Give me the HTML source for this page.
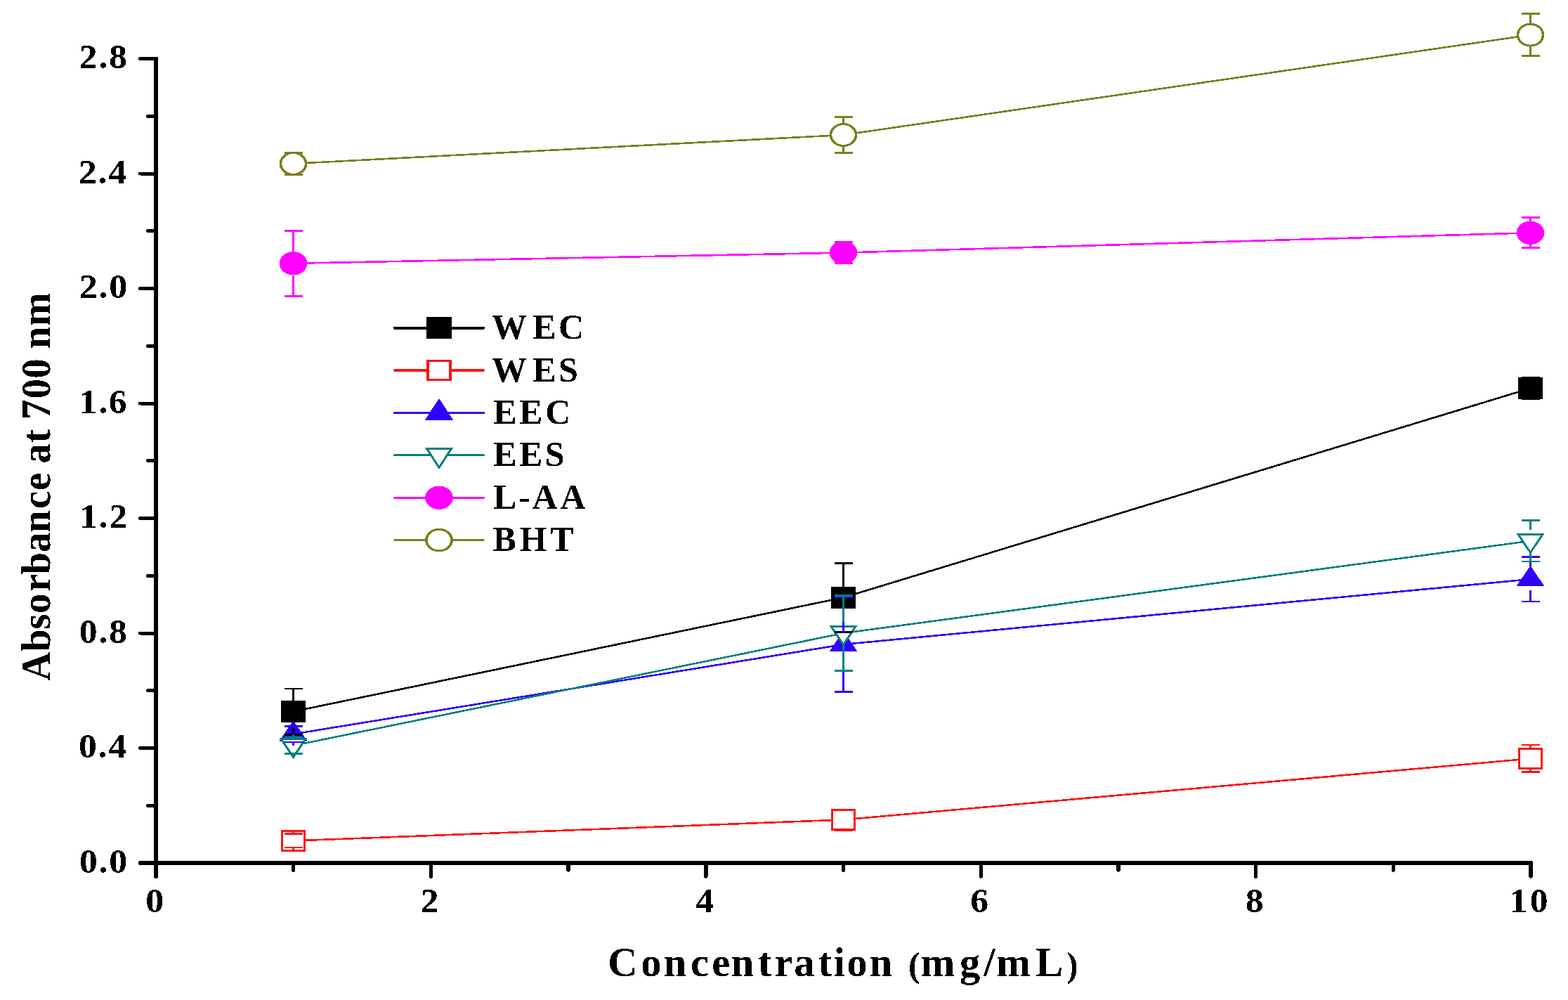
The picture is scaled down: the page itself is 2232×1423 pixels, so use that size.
<!DOCTYPE html>
<html><head><meta charset="utf-8"><title>Absorbance at 700 nm vs Concentration</title>
<style>html,body{margin:0;padding:0;background:#fff;overflow:hidden;}svg{display:block;} line,rect,polygon,polyline,ellipse{shape-rendering:crispEdges;} text{filter:url(#bin);}</style></head>
<body><svg width="2232" height="1423" viewBox="0 0 2232 1423">
<defs><filter id="bin" x="-5%" y="-5%" width="110%" height="110%" color-interpolation-filters="sRGB"><feComponentTransfer><feFuncA type="discrete" tableValues="0 1"/></feComponentTransfer></filter></defs>
<rect width="2232" height="1423" fill="#fff"/>
<g stroke="#000" fill="none">
<line x1="222.0" y1="81.4" x2="222.0" y2="1247" stroke-width="6" stroke-linecap="butt"/>
<line x1="222.0" y1="1240" x2="222.0" y2="1247" stroke-width="6" stroke-linecap="round"/>
<line x1="200" y1="1228.0" x2="2179" y2="1228.0" stroke-width="6" stroke-linecap="round"/>
<line x1="199.5" y1="1228.0" x2="222.0" y2="1228.0" stroke-width="5" stroke-linecap="round"/>
<line x1="210.5" y1="1146.2" x2="222.0" y2="1146.2" stroke-width="5" stroke-linecap="round"/>
<line x1="199.5" y1="1064.5" x2="222.0" y2="1064.5" stroke-width="5" stroke-linecap="round"/>
<line x1="210.5" y1="982.8" x2="222.0" y2="982.8" stroke-width="5" stroke-linecap="round"/>
<line x1="199.5" y1="901.0" x2="222.0" y2="901.0" stroke-width="5" stroke-linecap="round"/>
<line x1="210.5" y1="819.2" x2="222.0" y2="819.2" stroke-width="5" stroke-linecap="round"/>
<line x1="199.5" y1="737.5" x2="222.0" y2="737.5" stroke-width="5" stroke-linecap="round"/>
<line x1="210.5" y1="655.8" x2="222.0" y2="655.8" stroke-width="5" stroke-linecap="round"/>
<line x1="199.5" y1="574.0" x2="222.0" y2="574.0" stroke-width="5" stroke-linecap="round"/>
<line x1="210.5" y1="492.2" x2="222.0" y2="492.2" stroke-width="5" stroke-linecap="round"/>
<line x1="199.5" y1="410.5" x2="222.0" y2="410.5" stroke-width="5" stroke-linecap="round"/>
<line x1="210.5" y1="328.7" x2="222.0" y2="328.7" stroke-width="5" stroke-linecap="round"/>
<line x1="199.5" y1="247.0" x2="222.0" y2="247.0" stroke-width="5" stroke-linecap="round"/>
<line x1="210.5" y1="165.2" x2="222.0" y2="165.2" stroke-width="5" stroke-linecap="round"/>
<line x1="199.5" y1="83.5" x2="222.0" y2="83.5" stroke-width="5" stroke-linecap="round"/>
<line x1="222.0" y1="1228.0" x2="222.0" y2="1247" stroke-width="5.4" stroke-linecap="round"/>
<line x1="417.7" y1="1228.0" x2="417.7" y2="1238" stroke-width="5.4" stroke-linecap="round"/>
<line x1="613.4" y1="1228.0" x2="613.4" y2="1247" stroke-width="5.4" stroke-linecap="round"/>
<line x1="809.1" y1="1228.0" x2="809.1" y2="1238" stroke-width="5.4" stroke-linecap="round"/>
<line x1="1004.8" y1="1228.0" x2="1004.8" y2="1247" stroke-width="5.4" stroke-linecap="round"/>
<line x1="1200.5" y1="1228.0" x2="1200.5" y2="1238" stroke-width="5.4" stroke-linecap="round"/>
<line x1="1396.2" y1="1228.0" x2="1396.2" y2="1247" stroke-width="5.4" stroke-linecap="round"/>
<line x1="1591.9" y1="1228.0" x2="1591.9" y2="1238" stroke-width="5.4" stroke-linecap="round"/>
<line x1="1787.6" y1="1228.0" x2="1787.6" y2="1247" stroke-width="5.4" stroke-linecap="round"/>
<line x1="1983.3" y1="1228.0" x2="1983.3" y2="1238" stroke-width="5.4" stroke-linecap="round"/>
<line x1="2179.0" y1="1228.0" x2="2179.0" y2="1247" stroke-width="5.4" stroke-linecap="round"/>
</g>
<text transform="translate(112.94,1241.60) scale(1.066,1)" font-family="'Liberation Serif', 'Times New Roman', serif" font-weight="bold" font-size="48.5" fill="#000" letter-spacing="1.69" text-anchor="start">0.0</text>
<text transform="translate(111.93,1078.10) scale(1.066,1)" font-family="'Liberation Serif', 'Times New Roman', serif" font-weight="bold" font-size="48.5" fill="#000" letter-spacing="1.69" text-anchor="start">0.4</text>
<text transform="translate(112.69,914.60) scale(1.066,1)" font-family="'Liberation Serif', 'Times New Roman', serif" font-weight="bold" font-size="48.5" fill="#000" letter-spacing="1.69" text-anchor="start">0.8</text>
<text transform="translate(113.20,751.10) scale(1.066,1)" font-family="'Liberation Serif', 'Times New Roman', serif" font-weight="bold" font-size="48.5" fill="#000" letter-spacing="1.69" text-anchor="start">1.2</text>
<text transform="translate(112.49,587.60) scale(1.066,1)" font-family="'Liberation Serif', 'Times New Roman', serif" font-weight="bold" font-size="48.5" fill="#000" letter-spacing="1.69" text-anchor="start">1.6</text>
<text transform="translate(112.94,424.10) scale(1.066,1)" font-family="'Liberation Serif', 'Times New Roman', serif" font-weight="bold" font-size="48.5" fill="#000" letter-spacing="1.69" text-anchor="start">2.0</text>
<text transform="translate(111.93,260.60) scale(1.066,1)" font-family="'Liberation Serif', 'Times New Roman', serif" font-weight="bold" font-size="48.5" fill="#000" letter-spacing="1.69" text-anchor="start">2.4</text>
<text transform="translate(112.69,97.10) scale(1.066,1)" font-family="'Liberation Serif', 'Times New Roman', serif" font-weight="bold" font-size="48.5" fill="#000" letter-spacing="1.69" text-anchor="start">2.8</text>
<text transform="translate(207.27,1298.40) scale(1.066,1)" font-family="'Liberation Serif', 'Times New Roman', serif" font-weight="bold" font-size="48.5" fill="#000" text-anchor="start">0</text>
<text transform="translate(598.70,1298.40) scale(1.066,1)" font-family="'Liberation Serif', 'Times New Roman', serif" font-weight="bold" font-size="48.5" fill="#000" text-anchor="start">2</text>
<text transform="translate(990.20,1298.40) scale(1.066,1)" font-family="'Liberation Serif', 'Times New Roman', serif" font-weight="bold" font-size="48.5" fill="#000" text-anchor="start">4</text>
<text transform="translate(1381.35,1298.40) scale(1.066,1)" font-family="'Liberation Serif', 'Times New Roman', serif" font-weight="bold" font-size="48.5" fill="#000" text-anchor="start">6</text>
<text transform="translate(1772.87,1298.40) scale(1.066,1)" font-family="'Liberation Serif', 'Times New Roman', serif" font-weight="bold" font-size="48.5" fill="#000" text-anchor="start">8</text>
<text transform="translate(2148.51,1298.40) scale(1.066,1)" font-family="'Liberation Serif', 'Times New Roman', serif" font-weight="bold" font-size="48.5" fill="#000" letter-spacing="3.28" text-anchor="start">10</text>
<text x="865.13 912.27 944.84 983.05 1013.22 1040.79 1078.92 1102.46 1130.18 1164.82 1186.61 1205.42 1237.84 1270.37 1310.45 1365.94 1400.36 1418.35 1474.22" y="1389" font-family="'Liberation Serif', 'Times New Roman', serif" font-weight="bold" font-size="58.5">Concentration <tspan>mg/mL</tspan></text>
<text x="1292.93" y="1389.6" font-family="'Liberation Serif', 'Times New Roman', serif" font-weight="bold" font-size="50">(</text>
<text x="1517.97" y="1389.6" font-family="'Liberation Serif', 'Times New Roman', serif" font-weight="bold" font-size="50">)</text>
<text transform="translate(71.2,0) scale(1.035,1) rotate(-90)" x="-969.05 -927.01 -895.76 -873.10 -842.10 -817.66 -785.99 -757.68 -724.01 -697.94 -672.64 -659.39 -630.07 -611.09 -597.13 -567.55 -538.75 -510.25 -496.48 -463.92" y="0" font-family="'Liberation Serif', 'Times New Roman', serif" font-weight="bold" font-size="57.0">Absorbance at 700 nm</text>
<polyline points="417.50,1012.50 1200.50,850.30 2178.50,552.50" fill="none" stroke="#000000" stroke-width="2.6" stroke-linejoin="round"/>
<polyline points="417.50,1196.50 1200.50,1166.50 2178.50,1079.50" fill="none" stroke="#FF1212" stroke-width="2.6" stroke-linejoin="round"/>
<polyline points="417.50,1044.60 1200.50,917.00 2178.50,824.20" fill="none" stroke="#3000FF" stroke-width="2.6" stroke-linejoin="round"/>
<polyline points="417.50,1061.00 1200.50,901.00 2178.50,769.75" fill="none" stroke="#008080" stroke-width="2.6" stroke-linejoin="round"/>
<polyline points="417.50,374.80 1200.50,359.60 2178.50,331.30" fill="none" stroke="#FF00FF" stroke-width="2.6" stroke-linejoin="round"/>
<polyline points="417.50,232.90 1200.50,192.00 2178.50,49.70" fill="none" stroke="#7C7E1E" stroke-width="2.6" stroke-linejoin="round"/>
<rect x="399.60" y="997.10" width="35.8" height="30.8" fill="#000000"/>
<rect x="1182.60" y="834.90" width="35.8" height="30.8" fill="#000000"/>
<rect x="2160.60" y="537.10" width="35.8" height="30.8" fill="#000000"/>
<rect x="399.60" y="1181.10" width="35.8" height="30.8" fill="#FF1212"/><rect x="403.30" y="1184.10" width="28.40" height="24.80" fill="#fff"/>
<rect x="1182.60" y="1151.10" width="35.8" height="30.8" fill="#FF1212"/><rect x="1186.30" y="1154.10" width="28.40" height="24.80" fill="#fff"/>
<rect x="2160.60" y="1064.10" width="35.8" height="30.8" fill="#FF1212"/><rect x="2164.30" y="1067.10" width="28.40" height="24.80" fill="#fff"/>
<polygon points="417.50,1025.10 437.50,1054.80 397.50,1054.80" fill="#3000FF"/>
<polygon points="1200.50,897.50 1220.50,927.20 1180.50,927.20" fill="#3000FF"/>
<polygon points="2178.50,804.70 2198.50,834.40 2158.50,834.40" fill="#3000FF"/>
<polygon points="397.50,1050.40 437.50,1050.40 417.50,1080.20" fill="#008080"/><polygon points="403.13,1053.40 431.87,1053.40 417.50,1074.82" fill="#fff"/>
<polygon points="1180.50,890.40 1220.50,890.40 1200.50,920.20" fill="#008080"/><polygon points="1186.13,893.40 1214.87,893.40 1200.50,914.82" fill="#fff"/>
<polygon points="2158.50,759.15 2198.50,759.15 2178.50,788.95" fill="#008080"/><polygon points="2164.13,762.15 2192.87,762.15 2178.50,783.57" fill="#fff"/>
<ellipse cx="417.50" cy="374.80" rx="19.8" ry="16.7" fill="#FF00FF"/>
<ellipse cx="1200.50" cy="359.60" rx="19.8" ry="16.7" fill="#FF00FF"/>
<ellipse cx="2178.50" cy="331.30" rx="19.8" ry="16.7" fill="#FF00FF"/>
<ellipse cx="417.50" cy="232.90" rx="19.9" ry="16.9" fill="#7C7E1E"/><ellipse cx="417.50" cy="232.90" rx="16.2" ry="13.9" fill="#fff"/>
<ellipse cx="1200.50" cy="192.00" rx="19.9" ry="16.9" fill="#7C7E1E"/><ellipse cx="1200.50" cy="192.00" rx="16.2" ry="13.9" fill="#fff"/>
<ellipse cx="2178.50" cy="49.70" rx="19.9" ry="16.9" fill="#7C7E1E"/><ellipse cx="2178.50" cy="49.70" rx="16.2" ry="13.9" fill="#fff"/>
<g stroke="#000000" fill="none"><line x1="417.50" y1="997.00" x2="417.50" y2="980.00" stroke-width="3"/><line x1="417.50" y1="1028.00" x2="417.50" y2="1045.50" stroke-width="3"/><line x1="404.50" y1="980.00" x2="430.50" y2="980.00" stroke-width="2.8"/><line x1="404.50" y1="1045.50" x2="430.50" y2="1045.50" stroke-width="2.8"/><line x1="1200.50" y1="834.80" x2="1200.50" y2="801.60" stroke-width="3"/><line x1="1200.50" y1="865.80" x2="1200.50" y2="899.80" stroke-width="3"/><line x1="1187.50" y1="801.60" x2="1213.50" y2="801.60" stroke-width="2.8"/><line x1="1187.50" y1="899.80" x2="1213.50" y2="899.80" stroke-width="2.8"/><line x1="2178.50" y1="537.00" x2="2178.50" y2="537.00" stroke-width="3"/><line x1="2178.50" y1="568.00" x2="2178.50" y2="568.00" stroke-width="3"/><line x1="2165.50" y1="537.00" x2="2191.50" y2="537.00" stroke-width="2.8"/><line x1="2165.50" y1="568.00" x2="2191.50" y2="568.00" stroke-width="2.8"/></g>
<g stroke="#FF1212" fill="none"><line x1="417.50" y1="1181.00" x2="417.50" y2="1186.70" stroke-width="3"/><line x1="417.50" y1="1212.00" x2="417.50" y2="1206.00" stroke-width="3"/><line x1="404.50" y1="1186.70" x2="430.50" y2="1186.70" stroke-width="2.8"/><line x1="404.50" y1="1206.00" x2="430.50" y2="1206.00" stroke-width="2.8"/><line x1="1200.50" y1="1151.00" x2="1200.50" y2="1152.60" stroke-width="3"/><line x1="1200.50" y1="1182.00" x2="1200.50" y2="1182.00" stroke-width="3"/><line x1="1187.50" y1="1152.60" x2="1213.50" y2="1152.60" stroke-width="2.8"/><line x1="1187.50" y1="1182.00" x2="1213.50" y2="1182.00" stroke-width="2.8"/><line x1="2178.50" y1="1064.00" x2="2178.50" y2="1060.00" stroke-width="3"/><line x1="2178.50" y1="1095.00" x2="2178.50" y2="1098.50" stroke-width="3"/><line x1="2165.50" y1="1060.00" x2="2191.50" y2="1060.00" stroke-width="2.8"/><line x1="2165.50" y1="1098.50" x2="2191.50" y2="1098.50" stroke-width="2.8"/></g>
<g stroke="#3000FF" fill="none"><line x1="417.50" y1="1028.60" x2="417.50" y2="1033.20" stroke-width="3"/><line x1="417.50" y1="1060.60" x2="417.50" y2="1056.00" stroke-width="3"/><line x1="404.50" y1="1033.20" x2="430.50" y2="1033.20" stroke-width="2.8"/><line x1="404.50" y1="1056.00" x2="430.50" y2="1056.00" stroke-width="2.8"/><line x1="1200.50" y1="901.00" x2="1200.50" y2="849.70" stroke-width="3"/><line x1="1200.50" y1="933.00" x2="1200.50" y2="984.30" stroke-width="3"/><line x1="1187.50" y1="849.70" x2="1213.50" y2="849.70" stroke-width="2.8"/><line x1="1187.50" y1="984.30" x2="1213.50" y2="984.30" stroke-width="2.8"/><line x1="2178.50" y1="808.20" x2="2178.50" y2="792.40" stroke-width="3"/><line x1="2178.50" y1="840.20" x2="2178.50" y2="856.00" stroke-width="3"/><line x1="2165.50" y1="792.40" x2="2191.50" y2="792.40" stroke-width="2.8"/><line x1="2165.50" y1="856.00" x2="2191.50" y2="856.00" stroke-width="2.8"/></g>
<g stroke="#008080" fill="none"><line x1="417.50" y1="1045.00" x2="417.50" y2="1049.50" stroke-width="3"/><line x1="417.50" y1="1077.00" x2="417.50" y2="1072.40" stroke-width="3"/><line x1="404.50" y1="1049.50" x2="430.50" y2="1049.50" stroke-width="2.8"/><line x1="404.50" y1="1072.40" x2="430.50" y2="1072.40" stroke-width="2.8"/><line x1="1200.50" y1="885.00" x2="1200.50" y2="847.70" stroke-width="3"/><line x1="1200.50" y1="917.00" x2="1200.50" y2="954.30" stroke-width="3"/><line x1="1187.50" y1="847.70" x2="1213.50" y2="847.70" stroke-width="2.8"/><line x1="1187.50" y1="954.30" x2="1213.50" y2="954.30" stroke-width="2.8"/><line x1="2178.50" y1="753.75" x2="2178.50" y2="740.50" stroke-width="3"/><line x1="2178.50" y1="785.75" x2="2178.50" y2="799.00" stroke-width="3"/><line x1="2165.50" y1="740.50" x2="2191.50" y2="740.50" stroke-width="2.8"/><line x1="2165.50" y1="799.00" x2="2191.50" y2="799.00" stroke-width="2.8"/></g>
<g stroke="#FF00FF" fill="none"><line x1="417.50" y1="358.10" x2="417.50" y2="328.30" stroke-width="3"/><line x1="417.50" y1="391.50" x2="417.50" y2="421.50" stroke-width="3"/><line x1="404.50" y1="328.30" x2="430.50" y2="328.30" stroke-width="2.8"/><line x1="404.50" y1="421.50" x2="430.50" y2="421.50" stroke-width="2.8"/><line x1="1200.50" y1="342.90" x2="1200.50" y2="344.60" stroke-width="3"/><line x1="1200.50" y1="376.30" x2="1200.50" y2="374.60" stroke-width="3"/><line x1="1187.50" y1="344.60" x2="1213.50" y2="344.60" stroke-width="2.8"/><line x1="1187.50" y1="374.60" x2="1213.50" y2="374.60" stroke-width="2.8"/><line x1="2178.50" y1="314.60" x2="2178.50" y2="309.50" stroke-width="3"/><line x1="2178.50" y1="348.00" x2="2178.50" y2="352.50" stroke-width="3"/><line x1="2165.50" y1="309.50" x2="2191.50" y2="309.50" stroke-width="2.8"/><line x1="2165.50" y1="352.50" x2="2191.50" y2="352.50" stroke-width="2.8"/></g>
<g stroke="#7C7E1E" fill="none"><line x1="417.50" y1="215.90" x2="417.50" y2="217.30" stroke-width="3"/><line x1="417.50" y1="249.90" x2="417.50" y2="248.50" stroke-width="3"/><line x1="404.50" y1="217.30" x2="430.50" y2="217.30" stroke-width="2.8"/><line x1="404.50" y1="248.50" x2="430.50" y2="248.50" stroke-width="2.8"/><line x1="1200.50" y1="175.00" x2="1200.50" y2="166.70" stroke-width="3"/><line x1="1200.50" y1="209.00" x2="1200.50" y2="217.30" stroke-width="3"/><line x1="1187.50" y1="166.70" x2="1213.50" y2="166.70" stroke-width="2.8"/><line x1="1187.50" y1="217.30" x2="1213.50" y2="217.30" stroke-width="2.8"/><line x1="2178.50" y1="32.70" x2="2178.50" y2="19.60" stroke-width="3"/><line x1="2178.50" y1="66.70" x2="2178.50" y2="79.50" stroke-width="3"/><line x1="2165.50" y1="19.60" x2="2191.50" y2="19.60" stroke-width="2.8"/><line x1="2165.50" y1="79.50" x2="2191.50" y2="79.50" stroke-width="2.8"/></g>
<line x1="561.5" y1="466.6" x2="688.5" y2="466.6" stroke="#000000" stroke-width="3.8" stroke-linecap="round"/>
<rect x="607.10" y="451.20" width="35.8" height="30.8" fill="#000000"/>
<text x="700.04 758.18 795.08" y="482.3" font-family="'Liberation Serif', 'Times New Roman', serif" font-weight="bold" font-size="50">WEC</text>
<line x1="561.5" y1="527.0" x2="688.5" y2="527.0" stroke="#FF1212" stroke-width="3.2" stroke-linecap="round"/>
<rect x="607.10" y="511.60" width="35.8" height="30.8" fill="#FF1212"/><rect x="610.80" y="514.60" width="28.40" height="24.80" fill="#fff"/>
<text x="700.04 758.18 794.88" y="542.5" font-family="'Liberation Serif', 'Times New Roman', serif" font-weight="bold" font-size="50">WES</text>
<line x1="561.5" y1="587.4" x2="688.5" y2="587.4" stroke="#3000FF" stroke-width="3.2" stroke-linecap="round"/>
<polygon points="625.00,566.80 645.00,597.60 605.00,597.60" fill="#3000FF"/>
<text x="702.13 738.98 776.13" y="603.0" font-family="'Liberation Serif', 'Times New Roman', serif" font-weight="bold" font-size="50">EEC</text>
<line x1="561.5" y1="647.8" x2="688.5" y2="647.8" stroke="#008080" stroke-width="3.2" stroke-linecap="round"/>
<polygon points="605.00,637.20 645.00,637.20 625.00,668.10" fill="#008080"/><polygon points="610.52,640.20 639.48,640.20 625.00,662.58" fill="#fff"/>
<text x="702.13 738.98 775.73" y="663.3" font-family="'Liberation Serif', 'Times New Roman', serif" font-weight="bold" font-size="50">EES</text>
<line x1="561.5" y1="708.2" x2="688.5" y2="708.2" stroke="#FF00FF" stroke-width="3.2" stroke-linecap="round"/>
<ellipse cx="625.00" cy="708.20" rx="19.8" ry="16.7" fill="#FF00FF"/>
<text x="701.90 738.17 757.38 797.38" y="724.0" font-family="'Liberation Serif', 'Times New Roman', serif" font-weight="bold" font-size="50">L-AA</text>
<line x1="561.5" y1="768.6" x2="688.5" y2="768.6" stroke="#7C7E1E" stroke-width="2.5" stroke-linecap="round"/>
<ellipse cx="625.00" cy="768.60" rx="19.9" ry="16.9" fill="#7C7E1E"/><ellipse cx="625.00" cy="768.60" rx="16.2" ry="13.9" fill="#fff"/>
<text x="701.61 739.59 783.26" y="784.2" font-family="'Liberation Serif', 'Times New Roman', serif" font-weight="bold" font-size="50">BHT</text>
</svg></body></html>
